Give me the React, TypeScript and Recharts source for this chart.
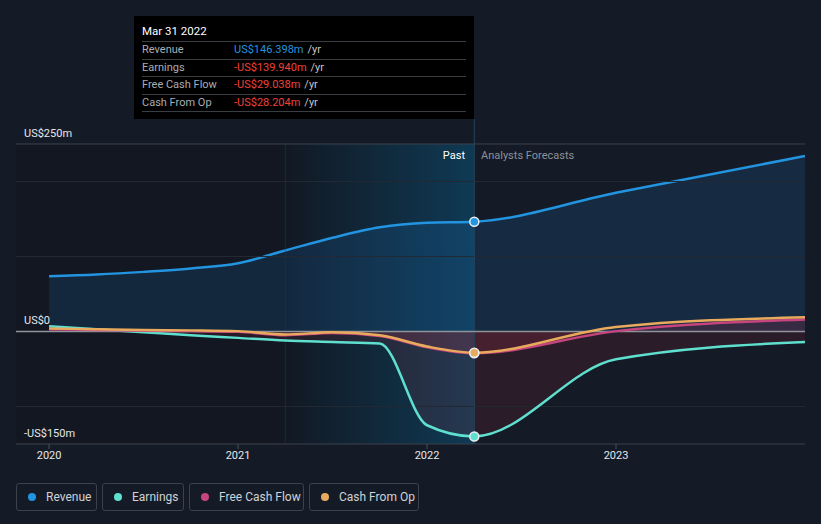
import React from 'react';
import {
  ComposedChart, Area, Line, XAxis, YAxis, ReferenceLine, ReferenceArea,
} from 'recharts';

// ---- data ----
const periods = [2020.0, 2020.25, 2020.5, 2020.75, 2021.0, 2021.25, 2021.5, 2021.75, 2022.0, 2022.25, 2023.0, 2024.0];
const revenue = [73.7, 76, 79.5, 84, 91, 108, 125, 139, 145, 146.398, 185, 234];
const earnings = [7, 3, -1, -5, -8.5, -12, -14, -16, -125, -139.94, -37, -14];
const freeCashFlow = [3, 2, 1, 0.5, -0.5, -5, -2, -6, -21, -29.038, 0.5, 16];
const cashFromOp = [4, 3, 2, 1.5, 0.5, -4, -1, -5, -20, -28.204, 6, 19];
const xTicks = [2020, 2021, 2022, 2023];
const gridValues = [-100, 100, 200];
const pastEnd = 2022.25;
const highlightStart = 2021.25;
const tooltipDate = 'Mar 31 2022';

const data = periods.map((p, i) => ({
  x: p,
  revenue: revenue[i],
  earnings: earnings[i],
  fcf: freeCashFlow[i],
  cfo: cashFromOp[i],
}));

const COLORS = {
  revenue: '#2394df',
  earnings: '#5fe0cf',
  fcf: '#c6457f',
  cfo: '#e8aa5c',
};

const BG = '#151b26';
const FONT = 'Roboto, "Noto Sans", sans-serif';

const fmtMoney = (v: number) => {
  if (v === 0) return 'US$0';
  const s = Math.abs(v) + 'm';
  return (v < 0 ? '-' : '') + 'US$' + s;
};
const fmtTip = (v: number) => (v < 0 ? '-' : '') + 'US$' + Math.abs(v).toFixed(3) + 'm';

const makeDot = (color: string) => (props: any) => {
  const { cx, cy, payload, index } = props;
  if (!payload || payload.x !== pastEnd || cx == null || cy == null) return <g key={`d${index}`} />;
  return <circle key={`d${index}`} cx={cx} cy={cy} r={4.5} fill={color} stroke="#e8edf2" strokeWidth={1.5} />;
};

const YLabel = (props: any) => {
  const { viewBox, value } = props;
  return (
    <text x={viewBox.x + 8} y={viewBox.y - 7} fill="#e6e8eb" fontSize={11} fontFamily={FONT}>
      {fmtMoney(value)}
    </text>
  );
};

const legendItems = [
  { name: 'Revenue', color: COLORS.revenue, w: 81 },
  { name: 'Earnings', color: COLORS.earnings, w: 82 },
  { name: 'Free Cash Flow', color: COLORS.fcf, w: 115 },
  { name: 'Cash From Op', color: COLORS.cfo, w: 110 },
];

const idx = periods.indexOf(pastEnd);
const tipRows = [
  { label: 'Revenue', v: revenue[idx] },
  { label: 'Earnings', v: earnings[idx] },
  { label: 'Free Cash Flow', v: freeCashFlow[idx] },
  { label: 'Cash From Op', v: cashFromOp[idx] },
];

export default function App() {
  return (
    <div style={{ position: 'absolute', left: 0, top: 0, width: 821, height: 524, background: BG, fontFamily: FONT, overflow: 'hidden' }}>
      <ComposedChart
        width={821}
        height={470}
        data={data}
        margin={{ top: 119, right: 16, bottom: 0, left: 16 }}
      >
        <defs>
          <linearGradient id="pastHi" x1="0" y1="0" x2="1" y2="0">
            <stop offset="0%" stopColor="#0a6a9a" stopOpacity={0.02} />
            <stop offset="100%" stopColor="#0a6a9a" stopOpacity={0.42} />
          </linearGradient>
        </defs>
        <XAxis
          dataKey="x"
          type="number"
          domain={[2019.825, 2024]}
          allowDataOverflow
          ticks={xTicks}
          tickFormatter={(v: number) => String(v)}
          height={26}
          axisLine={{ stroke: '#3c424c' }}
          tickLine={{ stroke: '#4a505a' }}
          tickSize={5}
          tick={{ fill: '#e6e8eb', fontSize: 11, fontFamily: FONT }}
        />
        <YAxis hide type="number" domain={[-150, 283.333]} allowDataOverflow />
        <ReferenceArea x1={2019.825} x2={pastEnd} y1={-150} y2={250} fill="#000" fillOpacity={0.13} stroke="none" ifOverflow="hidden" />
        <ReferenceArea x1={highlightStart} x2={pastEnd} y1={-150} y2={250} fill="url(#pastHi)" fillOpacity={1} stroke="none" />
        <ReferenceLine stroke="#1a4050" strokeOpacity={0.5} strokeWidth={1} segment={[{ x: highlightStart, y: -150 }, { x: highlightStart, y: 250 }]} />
        {gridValues.map((g) => (
          <ReferenceLine key={g} y={g} stroke="#242a34" strokeWidth={1} />
        ))}
        <ReferenceLine y={250} stroke="#3c424c" strokeWidth={1} label={<YLabel value={250} />} />
        <ReferenceLine y={-150} stroke="none" label={<YLabel value={-150} />} />
        <ReferenceLine
          segment={[{ x: pastEnd, y: -150 }, { x: pastEnd, y: 283.333 }]}
          stroke="#24465a"
          strokeWidth={1}
        />
        <Area
          type="monotone"
          dataKey="revenue"
          stroke={COLORS.revenue}
          strokeWidth={2.5}
          fill="#1e78c8"
          fillOpacity={0.17}
          baseValue={0}
          isAnimationActive={false}
          dot={makeDot(COLORS.revenue)}
          activeDot={false}
        />
        <Area
          type="monotone"
          dataKey="earnings"
          stroke="none"
          fill="#c83040"
          fillOpacity={0.12}
          baseValue={0}
          isAnimationActive={false}
          activeDot={false}
        />
        <Area
          type="monotone"
          dataKey="fcf"
          stroke="none"
          fill="#c83048"
          fillOpacity={0.18}
          baseValue={0}
          isAnimationActive={false}
          activeDot={false}
        />
        <ReferenceLine y={0} stroke="#8f939a" strokeWidth={1.5} label={<YLabel value={0} />} />
        <Line type="monotone" dataKey="earnings" stroke={COLORS.earnings} strokeWidth={2.5} dot={makeDot(COLORS.earnings)} activeDot={false} isAnimationActive={false} />
        <Line type="monotone" dataKey="fcf" stroke={COLORS.fcf} strokeWidth={2.5} dot={makeDot(COLORS.fcf)} activeDot={false} isAnimationActive={false} />
        <Line type="monotone" dataKey="cfo" stroke={COLORS.cfo} strokeWidth={2.5} dot={makeDot(COLORS.cfo)} activeDot={false} isAnimationActive={false} />
      </ComposedChart>

      {/* Past / Forecast labels */}
      <div style={{ position: 'absolute', right: 821 - 465, top: 149, fontSize: 11, color: '#ffffff' }}>Past</div>
      <div style={{ position: 'absolute', left: 481, top: 149, fontSize: 11, color: '#8b9099' }}>Analysts Forecasts</div>

      {/* Tooltip */}
      <div style={{ position: 'absolute', left: 134, top: 16, width: 340, height: 103, background: '#000', boxSizing: 'border-box', padding: '6px 8px' }}>
        <div style={{ fontSize: 11.5, color: '#fff', height: 19, lineHeight: '19px' }}>{tooltipDate}</div>
        {tipRows.map((r) => (
          <div key={r.label} style={{ display: 'flex', borderTop: '1px solid #3a3d42', height: 16.5, lineHeight: '16.5px', fontSize: 11 }}>
            <span style={{ width: 92, color: '#a9adb3' }}>{r.label}</span>
            <span style={{ color: r.v < 0 ? '#f0403a' : '#2394df' }}>{fmtTip(r.v)}</span>
            <span style={{ color: '#c4c7cc', marginLeft: 4 }}>/yr</span>
          </div>
        ))}
        <div style={{ borderTop: '1px solid #3a3d42' }} />
      </div>

      {/* Legend */}
      <div style={{ position: 'absolute', left: 16, top: 483, display: 'flex', gap: 5 }}>
        {legendItems.map((it) => (
          <div key={it.name} style={{ width: it.w, height: 28, boxSizing: 'border-box', border: '1px solid #3c424c', borderRadius: 3, display: 'flex', alignItems: 'center', paddingLeft: 11, fontSize: 12, color: '#cfd2d6' }}>
            <span style={{ width: 8, height: 8, borderRadius: 4, background: it.color, marginRight: 10, flex: 'none' }} />
            {it.name}
          </div>
        ))}
      </div>
    </div>
  );
}
